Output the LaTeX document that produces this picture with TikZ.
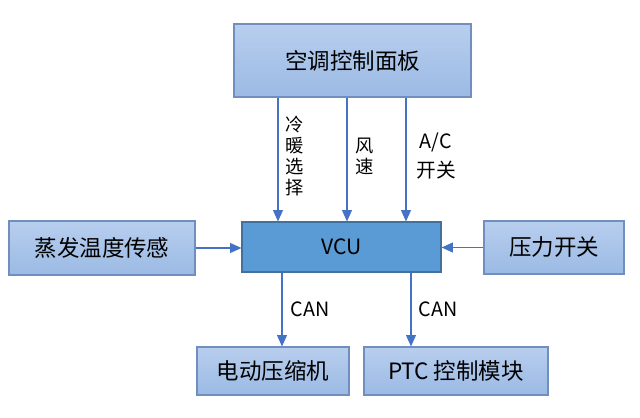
\documentclass[tikz,border=0pt]{standalone}
\usepackage{fontspec}
\setmainfont{Noto Sans CJK SC}
\usetikzlibrary{arrows.meta}
\definecolor{panelblue}{RGB}{184, 206, 238}
\definecolor{paneldark}{RGB}{155, 186, 228}
\definecolor{paneledge}{RGB}{112, 142, 190}
\definecolor{vcublue}{RGB}{91, 155, 213}
\definecolor{vcuedge}{RGB}{65, 113, 156}
\definecolor{wireblue}{RGB}{68, 114, 196}

\tikzset{
  lightbox/.style={draw=paneledge, line width=0.8pt, top color=panelblue, bottom color=paneldark, inner sep=0pt, font=\fontsize{16}{19}\selectfont},
  vcubox/.style={draw=vcuedge, line width=0.8pt, fill=vcublue, inner sep=0pt, font=\fontsize{15}{18}\selectfont},
  sigarrow/.style={draw=wireblue, line width=0.9pt, -{Triangle[length=8pt,width=7pt]}},
  siglabel/.style={align=center, inner sep=0pt}
}

\begin{document}
\begin{tikzpicture}[x=0.025cm, y=-0.025cm]
\useasboundingbox (0,0) rectangle (640,418);
% boxes
\node[lightbox, minimum width=5.925cm, minimum height=1.825cm] (panel) at (352.5,60.5) {空调控制面板};
\node[vcubox, minimum width=4.975cm, minimum height=1.25cm] (vcu) at (341.5,247) {VCU};
\node[lightbox, minimum width=4.65cm, minimum height=1.35cm] (evap) at (102,248) {蒸发温度传感};
\node[lightbox, minimum width=3.5cm, minimum height=1.325cm] (press) at (554,247.5) {压力开关};
\node[lightbox, minimum width=3.8cm, minimum height=1.2cm] (comp) at (273,371) {电动压缩机};
\node[lightbox, minimum width=4.6cm, minimum height=1.2cm] (ptc) at (456,371) {PTC 控制模块};
% where the wires run
\coordinate (heat) at (278,0);
\coordinate (fan) at (347,0);
\coordinate (ac) at (406,0);
\coordinate (cana) at (282,0);
\coordinate (canb) at (411,0);
% wires
\draw[sigarrow] (panel.south -| heat) -- (vcu.north -| heat);
\draw[sigarrow] (panel.south -| fan) -- (vcu.north -| fan);
\draw[sigarrow] (panel.south -| ac) -- (vcu.north -| ac);
\draw[sigarrow] (evap.east) -- (evap.east -| vcu.west);
\draw[sigarrow] (press.west) -- (press.west -| vcu.east);
\draw[sigarrow] (vcu.south -| cana) -- (comp.north -| cana);
\draw[sigarrow] (vcu.south -| canb) -- (ptc.north -| canb);
% labels
\node[siglabel, font=\fontsize{13}{15}\selectfont] (heatlbl) at (295,156) {冷\\暖\\选\\择};
\node[siglabel, font=\fontsize{13}{15}\selectfont] (fanlbl) at (365,156) {风\\速};
\node[siglabel, font=\fontsize{14}{21}\selectfont] (aclbl) at (436,156) {A/C\\开关};
\node[siglabel, font=\fontsize{14}{17}\selectfont] (canalbl) at (310,309) {CAN};
\node[siglabel, font=\fontsize{14}{17}\selectfont] (canblbl) at (438,309) {CAN};
\end{tikzpicture}
\end{document}
